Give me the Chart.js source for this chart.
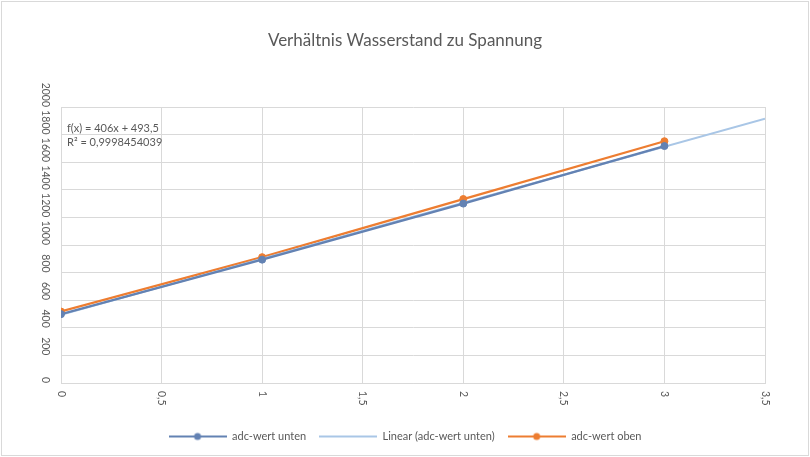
<!DOCTYPE html>
<html><head><meta charset="utf-8">
<script src="https://cdn.jsdelivr.net/npm/chart.js@4.4.0/dist/chart.umd.min.js"></script>
<style>html,body{margin:0;padding:0;background:#fff}#wrap{width:810px;height:457px}</style>
</head><body><div id="wrap"><canvas id="c" width="810" height="457"></canvas></div>
<script>
// ---- data ----
const xValues = [0, 1, 2, 3];
const adcUnten = [499, 894, 1300, 1717];
const adcOben = [518, 912, 1333, 1752];
const trendX = [0, 3.5];
const trendSlope = 406;
const trendIntercept = 493.5;
const xTickValues = [0, 0.5, 1, 1.5, 2, 2.5, 3, 3.5];
const yTickValues = [0, 200, 400, 600, 800, 1000, 1200, 1400, 1600, 1800, 2000];
const seriesNames = ['adc-wert unten', 'Linear (adc-wert unten)', 'adc-wert oben'];
const titleText = 'Verhältnis Wasserstand zu Spannung';
const equationLines = ['f(x) = 406x + 493,5', 'R² = 0,9998454039'];

// ---- styles ----
const FONT = 'Lato';
const TEXT = '#595959';
const GRID = '#d9d9d9';
const C_UNTEN = '#6382b3';
const C_TREND = '#a9c6e6';
const C_OBEN = '#ed7d31';
const PLOT = {left: 61, right: 765, top: 107, bottom: 383};
const PAD_BOTTOM = 5;

const fmt = v => String(v).replace('.', ',');

function legendIcon(color, marker) {
  const c = document.createElement('canvas');
  c.width = 58; c.height = 10;
  const g = c.getContext('2d');
  g.strokeStyle = color; g.lineWidth = 2;
  g.beginPath(); g.moveTo(0, 5); g.lineTo(58, 5); g.stroke();
  if (marker) { g.fillStyle = color; g.beginPath(); g.arc(29, 5, 3.5, 0, Math.PI * 2); g.fill(); }
  return c;
}
const icons = [legendIcon(C_UNTEN, true), legendIcon(C_TREND, false), legendIcon(C_OBEN, true)];

const pts = (xs, ys) => xs.map((x, i) => ({x, y: ys[i]}));
const trendY = trendX.map(x => trendSlope * x + trendIntercept);

const frame = {
  id: 'frame',
  beforeDraw(chart) {
    const ctx = chart.ctx;
    ctx.save();
    ctx.fillStyle = '#fff'; ctx.fillRect(0, 0, chart.width, chart.height);
    ctx.strokeStyle = GRID; ctx.lineWidth = 1;
    ctx.strokeRect(1.5, 1.5, chart.width - 3, chart.height - 3);
    ctx.restore();
  }
};

const tickLabels = {
  id: 'tickLabels',
  afterDraw(chart) {
    const ctx = chart.ctx, xs = chart.scales.x, ys = chart.scales.y;
    ctx.save();
    ctx.fillStyle = TEXT; ctx.font = '10.5px ' + FONT;
    xs.ticks.forEach(t => {
      const px = xs.getPixelForValue(t.value);
      ctx.save(); ctx.translate(px, xs.top + 8); ctx.rotate(Math.PI / 2);
      ctx.textAlign = 'left'; ctx.textBaseline = 'middle';
      ctx.fillText(fmt(t.value), 0, 0); ctx.restore();
    });
    ys.ticks.forEach(t => {
      const py = ys.getPixelForValue(t.value);
      ctx.save(); ctx.translate(ys.right - 16, py); ctx.rotate(Math.PI / 2);
      ctx.textAlign = 'right'; ctx.textBaseline = 'middle';
      ctx.fillText(fmt(t.value), 0, 0); ctx.restore();
    });
    // trendline equation
    const a = chart.chartArea;
    ctx.font = '11px ' + FONT;
    ctx.textAlign = 'left'; ctx.textBaseline = 'middle';
    equationLines.forEach((s, i) => ctx.fillText(s, a.left + 6, a.top + 21 + i * 14));
    ctx.restore();
  }
};

new Chart(document.getElementById('c'), {
  type: 'scatter',
  data: {
    datasets: [
      {label: seriesNames[0], data: pts(xValues, adcUnten), showLine: true,
       borderColor: C_UNTEN, backgroundColor: C_UNTEN, borderWidth: 2.25,
       pointRadius: 3.5, pointBorderWidth: 1, pointBackgroundColor: C_UNTEN, pointBorderColor: C_UNTEN},
      {label: seriesNames[1], data: pts(trendX, trendY), showLine: true,
       borderColor: C_TREND, backgroundColor: C_TREND, borderWidth: 2, pointRadius: 0},
      {label: seriesNames[2], data: pts(xValues, adcOben), showLine: true,
       borderColor: C_OBEN, backgroundColor: C_OBEN, borderWidth: 2.25,
       pointRadius: 3.5, pointBorderWidth: 1, pointBackgroundColor: C_OBEN, pointBorderColor: C_OBEN}
    ]
  },
  options: {
    responsive: false,
    animation: false,
    layout: {padding: {left: 0, right: 0, top: 0, bottom: PAD_BOTTOM}},
    plugins: {
      tooltip: {enabled: false},
      title: {display: true, text: titleText, color: TEXT,
              font: {family: FONT, size: 17, weight: 'normal'},
              padding: {top: 30, bottom: PLOT.top - 30 - 20.4}},
      legend: {position: 'bottom',
        labels: {usePointStyle: true, pointStyleWidth: 58, boxHeight: 10, padding: 13,
                 color: TEXT, font: {family: FONT, size: 11},
                 generateLabels(chart) {
                   const items = Chart.defaults.plugins.legend.labels.generateLabels(chart);
                   items.forEach(it => { it.pointStyle = icons[it.datasetIndex]; });
                   return items;
                 }}}
    },
    scales: {
      x: {type: 'linear', min: 0, max: 3.5,
          afterBuildTicks: s => { s.ticks = xTickValues.map(v => ({value: v})); },
          afterFit: s => { const lh = s.chart.legend ? s.chart.legend.height : 0; s.height = s.chart.height - PLOT.bottom - lh - PAD_BOTTOM; },
          grid: {color: GRID, lineWidth: 1, drawTicks: false},
          border: {color: GRID},
          ticks: {display: false}},
      y: {type: 'linear', min: 0, max: 2000,
          afterBuildTicks: s => { s.ticks = yTickValues.map(v => ({value: v})); },
          afterFit: s => { s.width = PLOT.left; },
          grid: {color: GRID, lineWidth: 1, drawTicks: false},
          border: {color: GRID},
          ticks: {display: false}},
      spacer: {type: 'linear', position: 'right', display: true,
          afterFit: s => { s.width = 810 - PLOT.right; },
          grid: {display: false, drawTicks: false}, border: {display: false},
          ticks: {display: false}}
    }
  },
  plugins: [frame, tickLabels]
});
</script></body></html>
